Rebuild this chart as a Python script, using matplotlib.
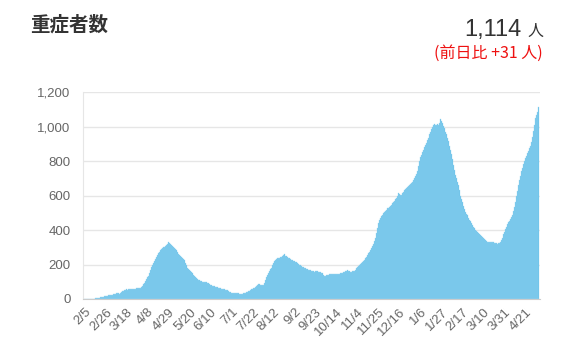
import numpy as np
import matplotlib
matplotlib.use('Agg')
from matplotlib import pyplot as plt

plt.rcParams['font.family'] = ['Noto Sans CJK JP', 'DejaVu Sans']

# daily severe cases from 2020-02-05, one row per week
severe = [
    0, 0, 0, 0, 0, 0, 0,
    1, 1, 2, 2, 3, 4, 5,
    6, 8, 9, 11, 12, 13, 15,
    16, 18, 20, 21, 22, 24, 25,
    26, 27, 29, 30, 32, 33, 32,
    31, 35, 40, 45, 48, 52, 54,
    56, 55, 57, 58, 57, 58, 59,
    58, 60, 59, 61, 62, 61, 64,
    66, 70, 75, 85, 95, 105, 115,
    125, 135, 150, 170, 185, 200, 210,
    220, 230, 245, 255, 265, 275, 285,
    290, 295, 300, 302, 305, 312, 320,
    328, 322, 318, 314, 305, 300, 296,
    290, 284, 270, 262, 255, 250, 246,
    240, 232, 225, 210, 195, 180, 175,
    170, 165, 158, 150, 140, 132, 128,
    122, 118, 112, 108, 104, 102, 100,
    99, 98, 97, 96, 95, 92, 88,
    84, 80, 78, 76, 74, 72, 70,
    68, 66, 64, 62, 60, 58, 57,
    56, 54, 52, 50, 46, 42, 38,
    36, 35, 34, 33, 33, 34, 33,
    32, 31, 31, 30, 31, 33, 35,
    37, 39, 41, 44, 48, 52, 56,
    60, 63, 66, 70, 74, 79, 85,
    87, 84, 82, 81, 84, 95, 110,
    125, 140, 152, 162, 172, 182, 195,
    208, 220, 228, 232, 236, 238, 240,
    242, 245, 250, 255, 259, 252, 248,
    245, 240, 236, 232, 228, 225, 223,
    220, 217, 214, 210, 205, 200, 196,
    192, 188, 184, 180, 177, 175, 172,
    170, 168, 166, 164, 162, 160, 158,
    160, 161, 160, 159, 158, 156, 152,
    148, 142, 136, 132, 138, 140, 142,
    143, 144, 144, 145, 145, 146, 144,
    143, 144, 145, 146, 148, 150, 152,
    155, 158, 162, 165, 166, 164, 160,
    158, 159, 160, 162, 165, 170, 178,
    185, 190, 196, 202, 208, 215, 222,
    228, 236, 245, 255, 265, 275, 285,
    295, 305, 318, 335, 355, 380, 410,
    440, 460, 472, 482, 490, 498, 505,
    512, 518, 525, 530, 536, 542, 548,
    555, 562, 570, 578, 588, 600, 615,
    608, 602, 605, 612, 620, 630, 638,
    645, 650, 656, 660, 666, 672, 680,
    690, 700, 712, 725, 745, 770, 800,
    825, 838, 850, 865, 880, 892, 905,
    920, 935, 955, 970, 985, 1000, 1010,
    1015, 1012, 1010, 1014, 1008, 1020, 1043,
    1030, 1020, 1005, 990, 970, 955, 935,
    915, 890, 865, 840, 810, 780, 750,
    720, 700, 680, 660, 630, 600, 580,
    560, 540, 520, 505, 495, 485, 472,
    460, 450, 440, 430, 420, 410, 400,
    392, 386, 380, 376, 372, 368, 362,
    355, 348, 340, 335, 332, 330, 328,
    330, 332, 331, 329, 326, 324, 322,
    321, 322, 325, 332, 340, 355, 375,
    390, 405, 420, 435, 445, 455, 465,
    475, 490, 510, 535, 565, 595, 625,
    660, 690, 715, 740, 760, 785, 800,
    815, 830, 845, 860, 875, 890, 910,
    940, 975, 1010, 1050, 1070, 1083, 1114,
]
tick_labels = ['2/5', '2/26', '3/18', '4/8', '4/29', '5/20', '6/10', '7/1',
               '7/22', '8/12', '9/2', '9/23', '10/14', '11/4', '11/25',
               '12/16', '1/6', '1/27', '2/17', '3/10', '3/31', '4/21']
yticks = [0, 200, 400, 600, 800, 1000, 1200]
title = '重症者数'
latest = '1,114'
diff_text = '(前日比 +31 人)'

days = np.arange(len(severe))

fig = plt.figure(figsize=(5.73, 3.53), dpi=100)
ax = fig.add_axes([0.145, 0.153, 0.798, 0.586])

ax.bar(days, severe, width=1.0, color='#5dbce6', edgecolor='#9fd8f2',
       linewidth=0.25, zorder=2)

ax.set_xlim(-1.8, len(severe) + 1)
ax.set_ylim(0, 1200)
ax.set_yticks(yticks)
ax.set_yticklabels([f'{v:,}' for v in yticks], fontsize=9.5, color='#666666',
                   family=['Liberation Sans', 'DejaVu Sans'])
ax.set_xticks(np.arange(len(tick_labels)) * 21)
ax.set_xticklabels(tick_labels, rotation=45, ha='right', rotation_mode='anchor',
                   fontsize=9.5, color='#666666',
                   family=['Liberation Sans', 'DejaVu Sans'])
ax.tick_params(axis='y', length=0, pad=9)
ax.tick_params(axis='x', length=0, pad=5)
ax.grid(axis='y', color='#e6e6e6', linewidth=1, zorder=0)
for s in ['top', 'right']:
    ax.spines[s].set_visible(False)
ax.spines['left'].set_color('#e6e6e6')
ax.spines['bottom'].set_color('#cccccc')

fig.text(30 / 573, 1 - 25 / 353, title, fontsize=14, fontweight='bold',
         color='#333333', va='center', ha='left')
fig.text(521 / 573, 1 - 30 / 353, latest, fontsize=17, color='#333333',
         va='center', ha='right', family=['Liberation Sans', 'DejaVu Sans'])
fig.text(543 / 573, 1 - 31 / 353, '人', fontsize=11.5, color='#333333',
         va='center', ha='right')
fig.text(543 / 573, 1 - 53 / 353, diff_text, fontsize=11.5, color='#ee1111',
         va='center', ha='right')

fig.savefig('out.png', dpi=100)
